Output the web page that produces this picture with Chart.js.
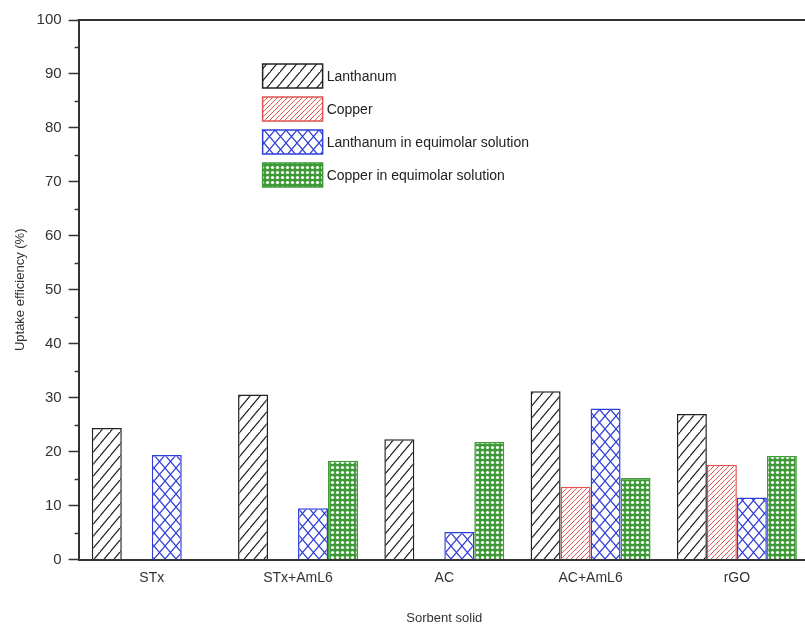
<!DOCTYPE html>
<html>
<head>
<meta charset="utf-8">
<script src="https://cdn.jsdelivr.net/npm/chart.js@4.4.0/dist/chart.umd.min.js"></script>
<style>
    html, body { margin: 0; padding: 0; background: #fff; overflow: hidden; }
    #wrap { width: 815px; height: 626px; }
</style>
</head>
<body>
<div id="wrap"><canvas id="chart" width="815" height="626"></canvas></div>
<script>
// --- data ---
const categories = ["STx", "STx+AmL6", "AC", "AC+AmL6", "rGO"];
const seriesNames = ["Lanthanum", "Copper", "Lanthanum in equimolar solution", "Copper in equimolar solution"];
const lanthanum = [24.4, 30.6, 22.3, 31.2, 27.0];
const copper = [null, null, null, 13.5, 17.6];
const lanthanumEquimolar = [19.4, 9.5, 5.1, 28.0, 11.5];
const copperEquimolar = [null, 18.3, 21.8, 15.1, 19.2];
const yTickMin = 0;
const yTickMax = 100;
const yTickStep = 10;

// --- hatch patterns ---
function makeTile(w, h, draw) {
    const c = document.createElement("canvas");
    c.width = w;
    c.height = h;
    const g = c.getContext("2d");
    draw(g, w, h);
    return document.getElementById("chart").getContext("2d").createPattern(c, "repeat");
}

function diagonal(color, w, h, lw) {
    return makeTile(w, h, (g) => {
        g.fillStyle = "#fff";
        g.fillRect(0, 0, w, h);
        g.strokeStyle = color;
        g.lineWidth = lw;
        g.beginPath();
        g.moveTo(-1, h + 1.2); g.lineTo(w + 1, -1.2);
        g.moveTo(-w - 1, h + 1.2); g.lineTo(1, -1.2);
        g.moveTo(w - 1, 2 * h + 1.2); g.lineTo(2 * w + 1, h - 1.2);
        g.stroke();
    });
}

function crossHatch(color, w, h, lw) {
    return makeTile(w, h, (g) => {
        g.fillStyle = "#fff";
        g.fillRect(0, 0, w, h);
        g.strokeStyle = color;
        g.lineWidth = lw;
        g.beginPath();
        g.moveTo(0, h); g.lineTo(w, 0);
        g.moveTo(0, 0); g.lineTo(w, h);
        g.stroke();
    });
}

function dotted(color, size, r) {
    return makeTile(size, size, (g, w, h) => {
        g.fillStyle = color;
        g.fillRect(0, 0, w, h);
        g.fillStyle = "#fff";
        g.beginPath();
        g.arc(w / 2, h / 2, r, 0, Math.PI * 2);
        g.fill();
    });
}

const fills = [
    diagonal("#222", 10, 12, 1.2),
    diagonal("#e0534f", 5, 5, 1),
    crossHatch("#2f3fd6", 11, 13, 1.2),
    dotted("#3e9a36", 5, 1.6)
];
const borders = ["#222", "#e0534f", "#2f3fd6", "#3e9a36"];
const seriesData = [lanthanum, copper, lanthanumEquimolar, copperEquimolar];

// --- plugins: top frame line, minor ticks, floating legend ---
const framePlugin = {
    id: "frame",
    afterDraw(chart) {
        const { ctx, chartArea } = chart;
        const y = chart.scales.y;
        ctx.save();
        ctx.strokeStyle = "#333";
        ctx.lineWidth = 2;
        ctx.beginPath();
        ctx.moveTo(chartArea.left - 1, chartArea.top);
        ctx.lineTo(chartArea.right, chartArea.top);
        ctx.stroke();
        // minor ticks halfway between labelled ones
        ctx.lineWidth = 1.5;
        ctx.beginPath();
        for (let v = yTickMin + yTickStep / 2; v < yTickMax; v += yTickStep) {
            const py = Math.round(y.getPixelForValue(v)) + 0.5;
            ctx.moveTo(chartArea.left - 4, py);
            ctx.lineTo(chartArea.left, py);
        }
        ctx.stroke();
        ctx.restore();
    }
};

const legendPlugin = {
    id: "floatLegend",
    afterDraw(chart) {
        const { ctx, chartArea } = chart;
        const x0 = chartArea.left + 184;
        const y0 = chartArea.top + 44;
        ctx.save();
        ctx.font = "14px 'Liberation Sans', Arial, sans-serif";
        ctx.textBaseline = "middle";
        chart.data.datasets.forEach((ds, i) => {
            const y = y0 + i * 33;
            ctx.fillStyle = ds.backgroundColor;
            ctx.fillRect(x0, y, 60, 24);
            ctx.strokeStyle = ds.borderColor;
            ctx.lineWidth = 1.5;
            ctx.strokeRect(x0, y, 60, 24);
            ctx.fillStyle = "#222";
            ctx.fillText(ds.label, x0 + 64, y + 13);
        });
        ctx.restore();
    }
};

// --- chart ---
const ctx = document.getElementById("chart").getContext("2d");
new Chart(ctx, {
    type: "bar",
    data: {
        labels: categories,
        datasets: seriesNames.map((name, i) => ({
            label: name,
            data: seriesData[i],
            backgroundColor: fills[i],
            borderColor: borders[i],
            borderWidth: 1.5,
            borderSkipped: "bottom",
            categoryPercentage: 0.82,
            barPercentage: 1.0
        }))
    },
    options: {
        responsive: false,
        animation: false,
        layout: { padding: { top: 20, right: 5, left: 13, bottom: 0 } },
        plugins: {
            legend: { display: false },
            tooltip: { enabled: false }
        },
        scales: {
            x: {
                grid: { display: false, drawTicks: false },
                border: { display: true, color: "#333", width: 2 },
                ticks: {
                    color: "#333",
                    padding: 10,
                    font: { family: "'Liberation Sans', Arial, sans-serif", size: 14 }
                },
                title: {
                    display: true,
                    text: "Sorbent solid",
                    color: "#333",
                    padding: { top: 14, bottom: 0 },
                    font: { family: "'Liberation Sans', Arial, sans-serif", size: 13 }
                }
            },
            y: {
                min: yTickMin,
                max: yTickMax,
                ticks: {
                    stepSize: yTickStep,
                    color: "#333",
                    padding: 7,
                    font: { family: "'Liberation Sans', Arial, sans-serif", size: 15 }
                },
                grid: { drawOnChartArea: false, drawTicks: true, tickLength: 10, tickWidth: 1.5, tickColor: "#333" },
                border: { display: true, color: "#333", width: 2 },
                title: {
                    display: true,
                    text: "Uptake efficiency (%)",
                    color: "#333",
                    padding: { top: 0, bottom: 1 },
                    font: { family: "'Liberation Sans', Arial, sans-serif", size: 13 }
                }
            }
        }
    },
    plugins: [framePlugin, legendPlugin]
});
</script>
</body>
</html>
